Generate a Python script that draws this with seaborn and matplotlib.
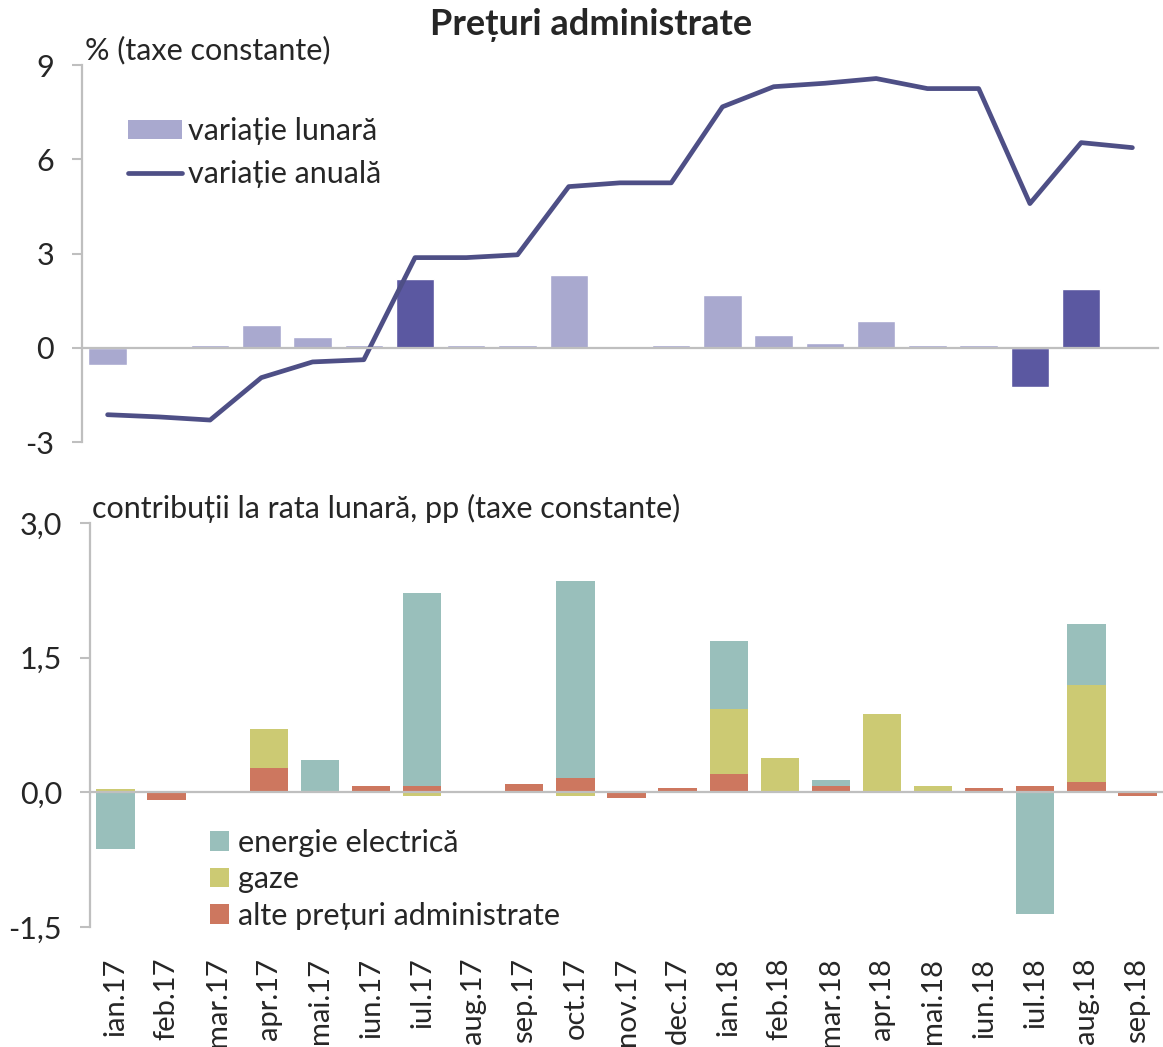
import matplotlib
matplotlib.use('Agg')
import matplotlib.pyplot as plt
import seaborn as sns
import numpy as np
import pandas as pd
from matplotlib.patches import Patch
from matplotlib.lines import Line2D

# date
months = ['ian.17', 'feb.17', 'mar.17', 'apr.17', 'mai.17', 'iun.17', 'iul.17',
          'aug.17', 'sep.17', 'oct.17', 'nov.17', 'dec.17', 'ian.18', 'feb.18',
          'mar.18', 'apr.18', 'mai.18', 'iun.18', 'iul.18', 'aug.18', 'sep.18']
variatie_lunara = [-0.55, 0.0, 0.08, 0.73, 0.35, 0.08, 2.2, 0.08, 0.08, 2.33, 0.0,
                   0.08, 1.69, 0.41, 0.16, 0.86, 0.08, 0.08, -1.24, 1.88, 0.0]
variatie_anuala = [-2.13, -2.2, -2.3, -0.95, -0.45, -0.38, 2.87, 2.87, 2.96, 5.13, 5.25,
                   5.25, 7.67, 8.31, 8.42, 8.57, 8.25, 8.25, 4.59, 6.53, 6.37]
highlight = ['iul.17', 'iul.18', 'aug.18']

energie = [-0.63, 0, 0, 0, 0.34, 0, 2.15, 0, 0, 2.2, 0, 0, 0.76, 0, 0.067, 0, 0, 0,
           -1.35, 0.67, 0]
gaze = [0.02, 0, 0, 0.44, 0, 0, -0.04, 0, 0, -0.04, 0, 0, 0.73, 0.36, 0, 0.85, 0.045,
        0, 0, 1.085, 0]
alte = [0.02, -0.085, 0.02, 0.27, 0.02, 0.067, 0.067, 0, 0.09, 0.155, -0.06, 0.045, 0.2,
        0.02, 0.067, 0.02, 0.02, 0.045, 0.067, 0.115, -0.04]

LIGHT = '#A9A9CF'
DARK = '#5B58A1'
LINE = '#4E4F86'
TEAL = '#99BFBB'
YELLOW = '#CCCA73'
RED = '#CD775F'
GRAY = '#BFBFBF'
FS = 22

sns.set_style('white')
plt.rcParams['font.family'] = ['Lato', 'DejaVu Sans']
plt.rcParams['font.size'] = FS
plt.rcParams['axes.unicode_minus'] = False

n = len(months)
df = pd.DataFrame({'luna': months, 'lunara': variatie_lunara, 'anuala': variatie_anuala})
palette = {m: (DARK if m in highlight else LIGHT) for m in months}

fig = plt.figure(figsize=(11.63, 10.47), dpi=100)
ax1 = fig.add_axes([0.0705, 0.5778, 0.9252, 0.3601])
ax2 = fig.add_axes([0.0774, 0.1146, 0.9226, 0.3859])

# panel sus
sns.barplot(data=df, x='luna', y='lunara', hue='luna', palette=palette, legend=False,
            width=0.75, saturation=1, ax=ax1)
sns.lineplot(x=np.arange(n), y=df['anuala'], color=LINE, lw=3.4, ax=ax1,
             solid_capstyle='round')
ax1.set_xlim(-0.5, n - 0.5)
ax1.set_ylim(-3, 9)
ax1.set_yticks([-3, 0, 3, 6, 9])
ax1.set_xlabel('')
ax1.set_ylabel('')

ax1.legend(handles=[Patch(facecolor=LIGHT, edgecolor='none'),
                    Line2D([], [], color=LINE, lw=3.4, solid_capstyle='round')],
           labels=['variație lunară', 'variație anuală'],
           loc='upper left', bbox_to_anchor=(0.043, 0.861), frameon=False,
           fontsize=FS, handlelength=1.75, handleheight=0.55, handletextpad=0.2,
           labelspacing=0.48, borderpad=0, borderaxespad=0)

# panel jos - stive
x = np.arange(n)
pos_base = np.zeros(n)
neg_base = np.zeros(n)
for vals, color, label in [(alte, RED, 'alte prețuri administrate'),
                           (gaze, YELLOW, 'gaze'),
                           (energie, TEAL, 'energie electrică')]:
    v = np.array(vals, dtype=float)
    base = np.where(v >= 0, pos_base, neg_base)
    ax2.bar(x, v, bottom=base, width=0.75, color=color, label=label, linewidth=0)
    pos_base += np.clip(v, 0, None)
    neg_base += np.clip(v, None, 0)

ax2.set_xlim(-0.5, n - 0.5)
ax2.set_ylim(-1.5, 3.0)
ax2.set_yticks([-1.5, 0, 1.5, 3.0])
ax2.set_yticklabels(['-1,5', '0,0', '1,5', '3,0'])

h, l = ax2.get_legend_handles_labels()
ax2.legend(h[::-1], l[::-1], loc='upper left', bbox_to_anchor=(0.112, 0.243),
           frameon=False, fontsize=FS, handlelength=0.6, handleheight=0.6,
           handletextpad=0.3, labelspacing=0.28, borderpad=0, borderaxespad=0)

sec = ax2.secondary_xaxis('bottom')
sec.set_xticks(range(n))
sec.set_xticklabels(months, rotation=90, fontsize=21)
sec.tick_params(length=0, pad=22)
sec.spines['bottom'].set_visible(False)

for ax in (ax1, ax2):
    for s in ('top', 'right'):
        ax.spines[s].set_visible(False)
    ax.spines['left'].set_color(GRAY)
    ax.spines['left'].set_linewidth(1.6)
    ax.spines['bottom'].set_position(('data', 0))
    ax.spines['bottom'].set_color(GRAY)
    ax.spines['bottom'].set_linewidth(1.6)
    ax.set_xticks([])
    ax.set_xticks(np.arange(-0.5, n, 1), minor=True)
    ax.tick_params(axis='x', which='minor', length=7, width=1.5, color=GRAY,
                   direction='out', labelbottom=False)
    ax.tick_params(axis='y', which='major', length=7, width=1.5, color=GRAY,
                   direction='out', left=True, labelsize=FS, pad=13)

fig.text(591 / 1163, 1 - 25 / 1047, 'Prețuri administrate', ha='center', va='center',
         fontsize=26, fontweight='bold')
fig.text(85 / 1163, 1 - 50 / 1047, '% (taxe constante)', ha='left', va='center',
         fontsize=FS)
fig.text(92 / 1163, 1 - 508 / 1047, 'contribuții la rata lunară, pp (taxe constante)',
         ha='left', va='center', fontsize=FS)

fig.savefig('out.png', dpi=100)
